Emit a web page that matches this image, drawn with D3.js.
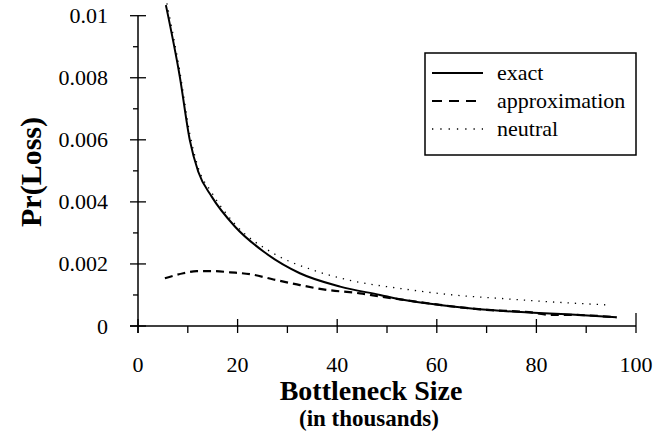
<!DOCTYPE html>
<html>
<head>
<meta charset="UTF-8">
<title>Pr(Loss) vs Bottleneck Size</title>
<style>
body { margin: 0; background: #fff; }
text { font-family: "Liberation Serif", "Times New Roman", serif; fill: #000; }
</style>
<script src="https://d3js.org/d3.v7.min.js"></script>
</head>
<body>
<svg id="chart"></svg>
<script>
// bottleneck size (thousands) and Pr(Loss)
var exactX = [5.6, 8.4, 10.4, 12.1, 14.8, 19.5, 25.2, 32.5, 40.6, 48.6, 52.6, 60.6, 70, 79.4, 86.1, 96.1];
var exactY = [0.01034, 0.00803, 0.00599, 0.00497, 0.00417, 0.0032, 0.0024, 0.0017, 0.00127, 0.001, 0.00086, 0.00068, 0.00052, 0.00043, 0.00038, 0.00028];

var approxX = [5.4, 9.1, 11.8, 15.1, 18.5, 22.5, 27.2, 31.9, 37.2, 44.6, 48.9, 52.6, 60.6, 70, 79.4, 82.7, 86.1, 96.1];
var approxY = [0.00154, 0.0017, 0.00177, 0.00177, 0.00173, 0.00167, 0.0015, 0.00134, 0.00118, 0.00105, 0.00094, 0.00086, 0.00068, 0.00052, 0.00043, 0.00036, 0.00036, 0.00028];

var neutralX = [5.8, 8.4, 10.4, 12.1, 14.8, 19.5, 27.2, 35.2, 43.2, 52.6, 63.3, 72.7, 82.7, 94.1];
var neutralY = [0.0104, 0.0082, 0.0062, 0.0051, 0.0043, 0.00328, 0.00234, 0.0018, 0.00145, 0.00121, 0.001, 0.00089, 0.00078, 0.00068];

var xTicks = [0, 20, 40, 60, 80, 100];
var xMinor = [10, 30, 50, 70, 90];
var yTicks = [0, 0.002, 0.004, 0.006, 0.008, 0.01];
var yMinor = [0.001, 0.003, 0.005, 0.007, 0.009];
var seriesNames = ["exact", "approximation", "neutral"];

var W = 661, H = 445;
var svg = d3.select("#chart").attr("width", W).attr("height", H);

var x = d3.scaleLinear().domain([0, 100]).range([138, 636]);
var y = d3.scaleLinear().domain([0, 0.01]).range([326, 15.7]);

// axes lines
svg.append("line").attr("x1", x(0)).attr("x2", x(0)).attr("y1", y(0.01)).attr("y2", y(0) + 7)
  .attr("stroke", "#000").attr("stroke-width", 1.5);
svg.append("line").attr("x1", x(0) - 8).attr("x2", x(100)).attr("y1", y(0)).attr("y2", y(0))
  .attr("stroke", "#000").attr("stroke-width", 1.5);

// y ticks
svg.selectAll(".ymaj").data(yTicks).enter().append("line")
  .attr("x1", x(0) - 8).attr("x2", x(0) + 8)
  .attr("y1", function (d) { return y(d); }).attr("y2", function (d) { return y(d); })
  .attr("stroke", "#000").attr("stroke-width", 1.3);
svg.selectAll(".ymin").data(yMinor).enter().append("line")
  .attr("x1", x(0) - 5).attr("x2", x(0))
  .attr("y1", function (d) { return y(d); }).attr("y2", function (d) { return y(d); })
  .attr("stroke", "#000").attr("stroke-width", 1.3);
svg.selectAll(".ylab").data(yTicks).enter().append("text")
  .attr("x", 108).attr("y", function (d) { return y(d) + 7.5; })
  .attr("text-anchor", "end").attr("font-size", 22)
  .text(function (d) { return d === 0 ? "0" : String(d); });

// x ticks
svg.selectAll(".xmaj").data(xTicks).enter().append("line")
  .attr("x1", function (d) { return x(d); }).attr("x2", function (d) { return x(d); })
  .attr("y1", function (d) { return d === 100 ? y(0) - 13 : y(0) - 7; }).attr("y2", y(0) + 7)
  .attr("stroke", "#000").attr("stroke-width", 1.3);
svg.selectAll(".xmin").data(xMinor).enter().append("line")
  .attr("x1", function (d) { return x(d); }).attr("x2", function (d) { return x(d); })
  .attr("y1", y(0)).attr("y2", y(0) + 7)
  .attr("stroke", "#000").attr("stroke-width", 1.3);
svg.selectAll(".xlab").data(xTicks).enter().append("text")
  .attr("x", function (d) { return x(d); }).attr("y", 372)
  .attr("text-anchor", "middle").attr("font-size", 22)
  .text(function (d) { return d; });

// titles
svg.append("text").attr("x", 371).attr("y", 400).attr("text-anchor", "middle")
  .attr("font-size", 28).attr("font-weight", "bold").text("Bottleneck Size");
svg.append("text").attr("x", 369).attr("y", 426).attr("text-anchor", "middle")
  .attr("font-size", 23).attr("font-weight", "bold").text("(in thousands)");
svg.append("text").attr("transform", "translate(41,172) rotate(-90)").attr("text-anchor", "middle")
  .attr("font-size", 30).attr("font-weight", "bold").text("Pr(Loss)");

// series
function pts(xs, ys) { return xs.map(function (d, i) { return [d, ys[i]]; }); }
var line = d3.line().x(function (d) { return x(d[0]); }).y(function (d) { return y(d[1]); })
  .curve(d3.curveMonotoneX);

svg.append("path").datum(pts(neutralX, neutralY)).attr("d", line)
  .attr("fill", "none").attr("stroke", "#000").attr("stroke-width", 1.3).attr("stroke-dasharray", "1.3,6");
svg.append("path").datum(pts(approxX, approxY)).attr("d", line)
  .attr("fill", "none").attr("stroke", "#000").attr("stroke-width", 2.2).attr("stroke-dasharray", "8,5");
svg.append("path").datum(pts(exactX, exactY)).attr("d", line)
  .attr("fill", "none").attr("stroke", "#000").attr("stroke-width", 2);

// legend
var lg = svg.append("g");
lg.append("rect").attr("x", 425).attr("y", 53).attr("width", 211).attr("height", 102)
  .attr("fill", "#fff").attr("stroke", "#000").attr("stroke-width", 1.5);
var dashes = [null, "10,7", "1.3,7"];
var widths = [2, 2.2, 1.3];
seriesNames.forEach(function (name, i) {
  var yy = 73 + i * 28;
  lg.append("line").attr("x1", 432).attr("x2", 483).attr("y1", yy).attr("y2", yy)
    .attr("stroke", "#000").attr("stroke-width", widths[i])
    .attr("stroke-dasharray", dashes[i]);
  lg.append("text").attr("x", 497).attr("y", yy + 7).attr("font-size", 22).text(name);
});
</script>
</body>
</html>
